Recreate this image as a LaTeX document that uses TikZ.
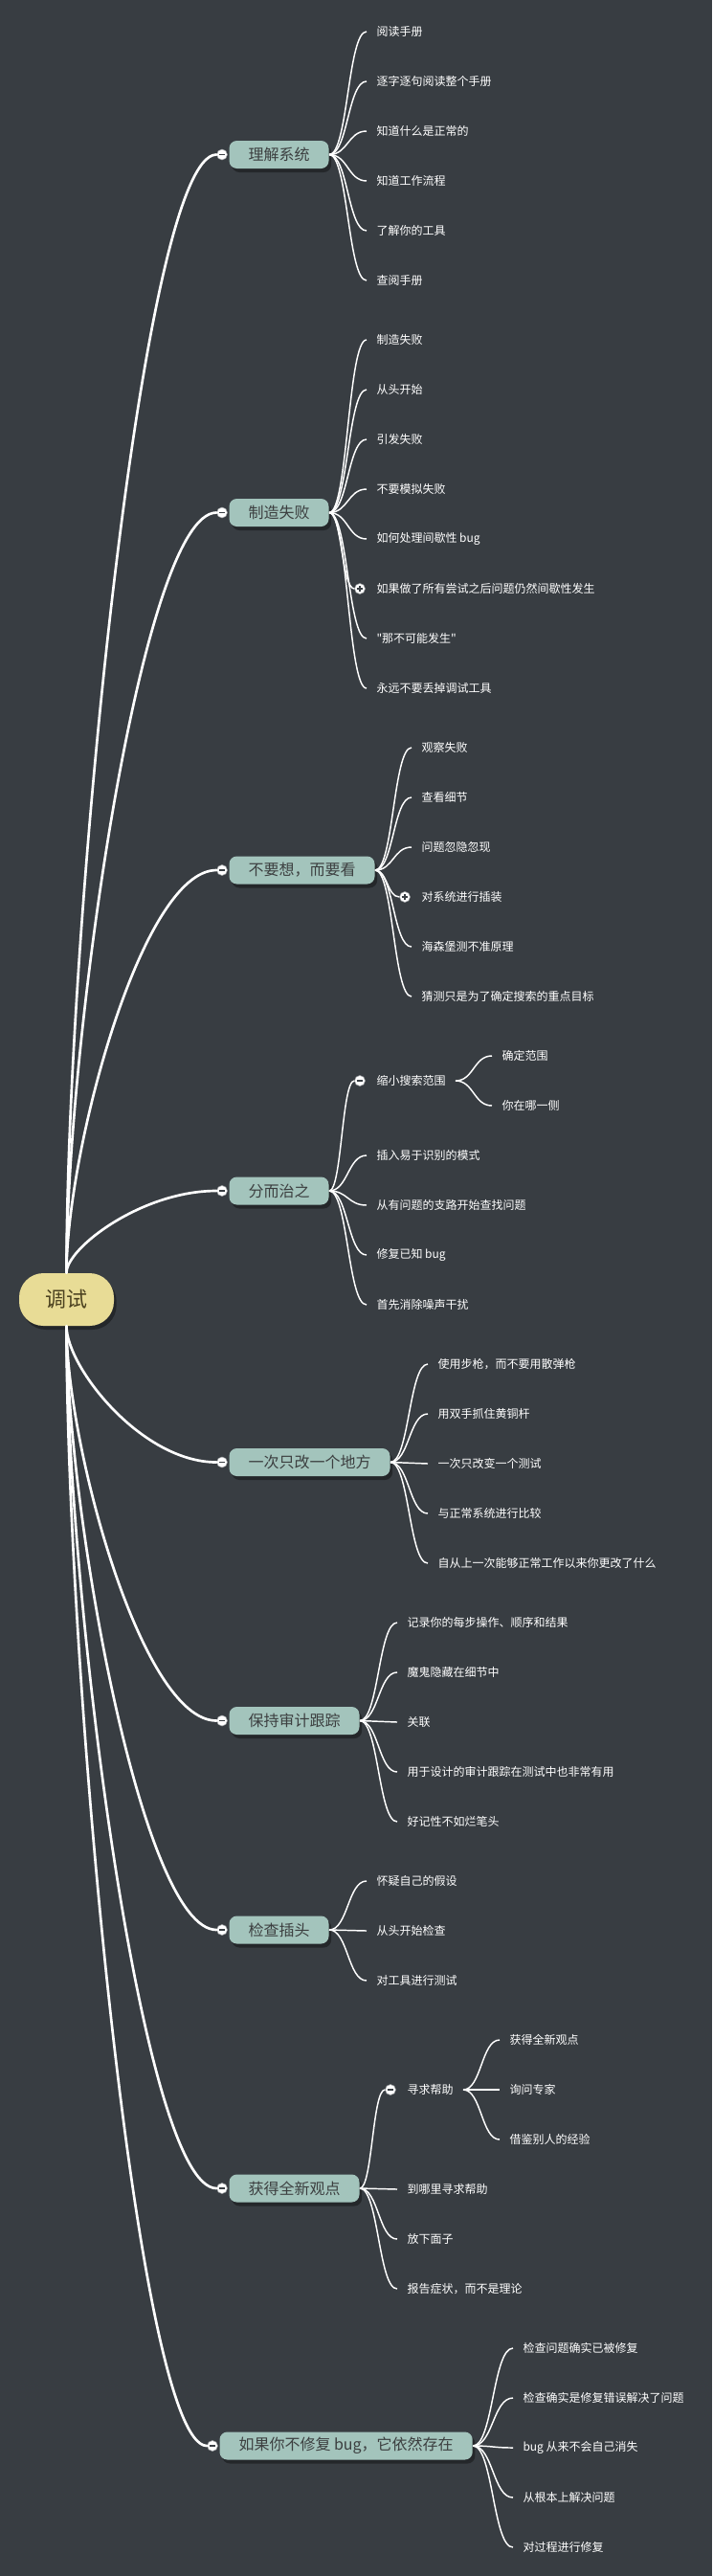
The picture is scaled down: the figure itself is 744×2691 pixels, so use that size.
\documentclass[tikz,border=0pt]{standalone}
\usepackage{fontspec}
\newfontfamily\cjk{Noto Sans CJK SC}
\usetikzlibrary{calc,shadows}

\definecolor{bgdark}{HTML}{383D42}
\definecolor{topicfill}{HTML}{A3C4BC}
\definecolor{topictext}{HTML}{3C3F40}
\definecolor{rootfill}{HTML}{E8DC96}
\definecolor{roottext}{HTML}{4C4220}
\definecolor{foldbar}{HTML}{3A3F44}

\tikzset{every picture/.style={line width=0.75pt}}
\tikzset{
  rootbox/.style={rounded corners=19pt, fill=rootfill, text=roottext,
    font=\cjk\fontsize{16.5}{18}\selectfont, minimum width=74.25pt, minimum height=41.25pt,
    drop shadow={shadow xshift=2pt, shadow yshift=-3pt, opacity=0.35, fill=black}},
  topic/.style={anchor=west, rounded corners=6pt, fill=topicfill, text=topictext,
    font=\cjk\fontsize{12}{14}\selectfont, inner xsep=15pt, inner ysep=0pt, minimum height=21.75pt,
    drop shadow={shadow xshift=2pt, shadow yshift=-3pt, opacity=0.35, fill=black}},
  leaf/.style={anchor=west, text=white, font=\cjk\fontsize{9}{11}\selectfont, inner xsep=7.5pt, inner ysep=1pt},
  foldminus/.style={circle, fill=white, draw=foldbar!50, line width=0.4pt, minimum size=8.25pt, inner sep=0pt,
    path picture={\draw[foldbar, line width=1.1pt] ([xshift=-2.6pt]path picture bounding box.center) -- ([xshift=2.6pt]path picture bounding box.center);}},
  foldplus/.style={circle, fill=white, draw=foldbar!50, line width=0.4pt, minimum size=8.25pt, inner sep=0pt,
    path picture={\draw[foldbar, line width=1.1pt] ([xshift=-2.6pt]path picture bounding box.center) -- ([xshift=2.6pt]path picture bounding box.center)
      ([yshift=-2.6pt]path picture bounding box.center) -- ([yshift=2.6pt]path picture bounding box.center);}},
  limb/.style={white, line width=2pt, line cap=round,
    to path={.. controls ($(\tikztostart)!0.3!(\tikztostart |- \tikztotarget)$) and ($(\tikztotarget)!0.5!(\tikztotarget -| \tikztostart)$) .. (\tikztotarget)}},
  twig/.style={white, line width=1.1pt,
    to path={.. controls ($(\tikztostart)!0.5!(\tikztostart -| \tikztotarget)$) and ($(\tikztotarget)!0.5!(\tikztotarget -| \tikztostart)$) .. (\tikztotarget)}},
}

\begin{document}
\begin{tikzpicture}[x=0.75pt,y=0.75pt,yscale=-1]
%set diagram left start at 0, width 744 and height 2691
\fill[bgdark] (0,0) rectangle (744,2691);
\useasboundingbox (0,0) rectangle (744,2691);

% Root Node
\node[rootbox] (root) at (69.5,1357.5) {调试};

% Topic Nodes
\node[topic] (sys) at (239,161.5) {理解系统};
\node[foldminus] (sysf) at (232,161.5) {};
\node[topic] (fail) at (239,535.5) {制造失败};
\node[foldminus] (failf) at (232,535.5) {};
\node[topic] (look) at (239,909) {不要想，而要看};
\node[foldminus] (lookf) at (232,909) {};
\node[topic] (split) at (239,1244) {分而治之};
\node[foldminus] (splitf) at (232,1244) {};
\node[topic] (once) at (239,1527.5) {一次只改一个地方};
\node[foldminus] (oncef) at (232,1527.5) {};
\node[topic] (audit) at (239,1797.5) {保持审计跟踪};
\node[foldminus] (auditf) at (232,1797.5) {};
\node[topic] (plug) at (239,2016) {检查插头};
\node[foldminus] (plugf) at (232,2016) {};
\node[topic] (view) at (239,2286) {获得全新观点};
\node[foldminus] (viewf) at (232,2286) {};
\node[topic] (fix) at (229,2555) {如果你不修复 bug，它依然存在};
\node[foldminus] (fixf) at (222,2555) {};

%Curve Lines
\draw[limb] (root.north) to (sysf.west);
\draw[limb] (root.north) to (failf.west);
\draw[limb] (root.north) to (lookf.west);
\draw[limb] (root.north) to (splitf.west);
\draw[limb] (root.south) to (oncef.west);
\draw[limb] (root.south) to (auditf.west);
\draw[limb] (root.south) to (plugf.west);
\draw[limb] (root.south) to (viewf.west);
\draw[limb] (root.south) to (fixf.west);

% Text Node
\node[leaf] (sys1) at (383,33) {阅读手册};
\node[leaf] (sys2) at (383,85) {逐字逐句阅读整个手册};
\node[leaf] (sys3) at (383,137) {知道什么是正常的};
\node[leaf] (sys4) at (383,189) {知道工作流程};
\node[leaf] (sys5) at (383,241) {了解你的工具};
\node[leaf] (sys6) at (383,293) {查阅手册};
%Curve Lines
\draw[twig] (sys.east) to (sys1.west);
\draw[twig] (sys.east) to (sys2.west);
\draw[twig] (sys.east) to (sys3.west);
\draw[twig] (sys.east) to (sys4.west);
\draw[twig] (sys.east) to (sys5.west);
\draw[twig] (sys.east) to (sys6.west);

% Text Node
\node[leaf] (fail1) at (383,355) {制造失败};
\node[leaf] (fail2) at (383,407) {从头开始};
\node[leaf] (fail3) at (383,459) {引发失败};
\node[leaf] (fail4) at (383,511) {不要模拟失败};
\node[leaf] (fail5) at (383,563) {如何处理间歇性 bug};
\node[leaf] (fail6) at (383,615) {如果做了所有尝试之后问题仍然间歇性发生};
\node[foldplus] (fail6f) at (376,615) {};
\node[leaf] (fail7) at (383,667) {\symbol{34}那不可能发生\symbol{34}};
\node[leaf] (fail8) at (383,719) {永远不要丢掉调试工具};
%Curve Lines
\draw[twig] (fail.east) to (fail1.west);
\draw[twig] (fail.east) to (fail2.west);
\draw[twig] (fail.east) to (fail3.west);
\draw[twig] (fail.east) to (fail4.west);
\draw[twig] (fail.east) to (fail5.west);
\draw[twig] (fail.east) to (fail6f.west);
\draw[twig] (fail.east) to (fail7.west);
\draw[twig] (fail.east) to (fail8.west);

% Text Node
\node[leaf] (look1) at (430,781) {观察失败};
\node[leaf] (look2) at (430,833) {查看细节};
\node[leaf] (look3) at (430,885) {问题忽隐忽现};
\node[leaf] (look4) at (430,937) {对系统进行插装};
\node[foldplus] (look4f) at (423,937) {};
\node[leaf] (look5) at (430,989) {海森堡测不准原理};
\node[leaf] (look6) at (430,1041) {猜测只是为了确定搜索的重点目标};
%Curve Lines
\draw[twig] (look.east) to (look1.west);
\draw[twig] (look.east) to (look2.west);
\draw[twig] (look.east) to (look3.west);
\draw[twig] (look.east) to (look4f.west);
\draw[twig] (look.east) to (look5.west);
\draw[twig] (look.east) to (look6.west);

% Text Node
\node[leaf] (split1) at (383,1129) {缩小搜索范围};
\node[foldminus] (split1f) at (376,1129) {};
\node[leaf] (split11) at (514,1103) {确定范围};
\node[leaf] (split12) at (514,1155) {你在哪一侧};
\node[leaf] (split2) at (383,1207) {插入易于识别的模式};
\node[leaf] (split3) at (383,1259) {从有问题的支路开始查找问题};
\node[leaf] (split4) at (383,1311) {修复已知 bug};
\node[leaf] (split5) at (383,1363) {首先消除噪声干扰};
%Curve Lines
\draw[twig] (split.east) to (split1f.west);
\draw[twig] (split1.east) to (split11.west);
\draw[twig] (split1.east) to (split12.west);
\draw[twig] (split.east) to (split2.west);
\draw[twig] (split.east) to (split3.west);
\draw[twig] (split.east) to (split4.west);
\draw[twig] (split.east) to (split5.west);

% Text Node
\node[leaf] (once1) at (447,1425) {使用步枪，而不要用散弹枪};
\node[leaf] (once2) at (447,1477) {用双手抓住黄铜杆};
\node[leaf] (once3) at (447,1529) {一次只改变一个测试};
\node[leaf] (once4) at (447,1581) {与正常系统进行比较};
\node[leaf] (once5) at (447,1633) {自从上一次能够正常工作以来你更改了什么};
%Curve Lines
\draw[twig] (once.east) to (once1.west);
\draw[twig] (once.east) to (once2.west);
\draw[twig] (once.east) to (once3.west);
\draw[twig] (once.east) to (once4.west);
\draw[twig] (once.east) to (once5.west);

% Text Node
\node[leaf] (audit1) at (415,1695) {记录你的每步操作、顺序和结果};
\node[leaf] (audit2) at (415,1747) {魔鬼隐藏在细节中};
\node[leaf] (audit3) at (415,1799) {关联};
\node[leaf] (audit4) at (415,1851) {用于设计的审计跟踪在测试中也非常有用};
\node[leaf] (audit5) at (415,1903) {好记性不如烂笔头};
%Curve Lines
\draw[twig] (audit.east) to (audit1.west);
\draw[twig] (audit.east) to (audit2.west);
\draw[twig] (audit.east) to (audit3.west);
\draw[twig] (audit.east) to (audit4.west);
\draw[twig] (audit.east) to (audit5.west);

% Text Node
\node[leaf] (plug1) at (383,1965) {怀疑自己的假设};
\node[leaf] (plug2) at (383,2017) {从头开始检查};
\node[leaf] (plug3) at (383,2069) {对工具进行测试};
%Curve Lines
\draw[twig] (plug.east) to (plug1.west);
\draw[twig] (plug.east) to (plug2.west);
\draw[twig] (plug.east) to (plug3.west);

% Text Node
\node[leaf] (view1) at (415,2183) {寻求帮助};
\node[foldminus] (view1f) at (408,2183) {};
\node[leaf] (view11) at (522,2131) {获得全新观点};
\node[leaf] (view12) at (522,2183) {询问专家};
\node[leaf] (view13) at (522,2235) {借鉴别人的经验};
\node[leaf] (view2) at (415,2287) {到哪里寻求帮助};
\node[leaf] (view3) at (415,2339) {放下面子};
\node[leaf] (view4) at (415,2391) {报告症状，而不是理论};
%Curve Lines
\draw[twig] (view.east) to (view1f.west);
\draw[twig] (view1.east) to (view11.west);
\draw[twig] (view1.east) to (view12.west);
\draw[twig] (view1.east) to (view13.west);
\draw[twig] (view.east) to (view2.west);
\draw[twig] (view.east) to (view3.west);
\draw[twig] (view.east) to (view4.west);

% Text Node
\node[leaf] (fix1) at (536,2453) {检查问题确实已被修复};
\node[leaf] (fix2) at (536,2505) {检查确实是修复错误解决了问题};
\node[leaf] (fix3) at (536,2557) {bug 从来不会自己消失};
\node[leaf] (fix4) at (536,2609) {从根本上解决问题};
\node[leaf] (fix5) at (536,2661) {对过程进行修复};
%Curve Lines
\draw[twig] (fix.east) to (fix1.west);
\draw[twig] (fix.east) to (fix2.west);
\draw[twig] (fix.east) to (fix3.west);
\draw[twig] (fix.east) to (fix4.west);
\draw[twig] (fix.east) to (fix5.west);

\end{tikzpicture}
\end{document}
